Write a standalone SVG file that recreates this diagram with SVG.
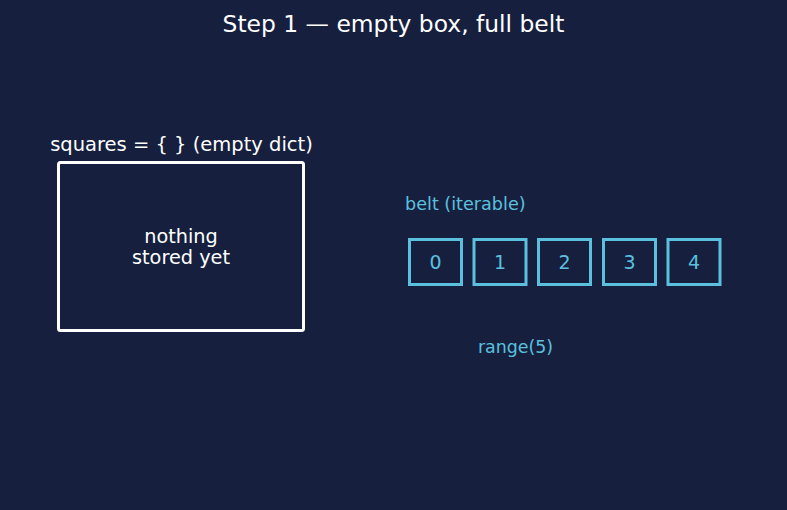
<svg xmlns="http://www.w3.org/2000/svg" width="787" height="510" viewBox="0 0 787 510">
<style>
text{font-family:"DejaVu Sans",sans-serif}
.w{fill:#ffffff}
.c{fill:#5bc0de}
.cell{fill:none;stroke:#5bc0de;stroke-width:3}
</style>
<rect width="787" height="510" fill="#16203e"/>
<text class="w" x="393.5" y="32" font-size="23.4" text-anchor="middle">Step 1 — empty box, full belt</text>
<g id="dict">
<text class="w" x="181.5" y="151" font-size="19.5" text-anchor="middle">squares = { } (empty dict)</text>
<rect x="58.5" y="162.5" width="245" height="168" rx="2" fill="none" stroke="#ffffff" stroke-width="3"/>
<text class="w" x="181" y="243" font-size="19.3" text-anchor="middle">nothing</text>
<text class="w" x="181" y="264" font-size="19.3" text-anchor="middle">stored yet</text>
</g>
<g id="belt">
<text class="c" x="405" y="210" font-size="17.6">belt (iterable)</text>
<g id="cell0"><rect class="cell" x="409.5" y="239.5" width="52" height="45"/><text class="c" x="435.5" y="269" font-size="19" text-anchor="middle">0</text></g>
<g id="cell1"><rect class="cell" x="474" y="239.5" width="52" height="45"/><text class="c" x="500" y="269" font-size="19" text-anchor="middle">1</text></g>
<g id="cell2"><rect class="cell" x="538.5" y="239.5" width="52" height="45"/><text class="c" x="564.5" y="269" font-size="19" text-anchor="middle">2</text></g>
<g id="cell3"><rect class="cell" x="603.5" y="239.5" width="52" height="45"/><text class="c" x="629.5" y="269" font-size="19" text-anchor="middle">3</text></g>
<g id="cell4"><rect class="cell" x="668" y="239.5" width="52" height="45"/><text class="c" x="694" y="269" font-size="19" text-anchor="middle">4</text></g>
<text class="c" x="515.5" y="353" font-size="17.4" text-anchor="middle">range(5)</text>
</g>
<g id="connectors"/>
</svg>
